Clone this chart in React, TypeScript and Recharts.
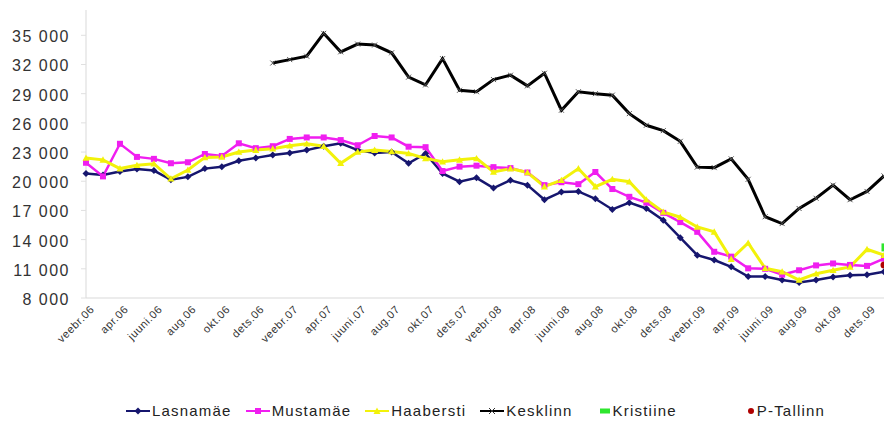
import { LineChart, Line, XAxis, YAxis } from 'recharts';

// monthly average, Feb 2006 .. Jan 2010
const months = [
  'veebr.06', 'märts.06', 'apr.06', 'mai.06', 'juuni.06', 'juuli.06', 'aug.06', 'sept.06', 'okt.06', 'nov.06', 'dets.06', 'jaan.07',
  'veebr.07', 'märts.07', 'apr.07', 'mai.07', 'juuni.07', 'juuli.07', 'aug.07', 'sept.07', 'okt.07', 'nov.07', 'dets.07', 'jaan.08',
  'veebr.08', 'märts.08', 'apr.08', 'mai.08', 'juuni.08', 'juuli.08', 'aug.08', 'sept.08', 'okt.08', 'nov.08', 'dets.08', 'jaan.09',
  'veebr.09', 'märts.09', 'apr.09', 'mai.09', 'juuni.09', 'juuli.09', 'aug.09', 'sept.09', 'okt.09', 'nov.09', 'dets.09', 'jaan.10',
];

const lasnamae = [
  20800, 20650, 21000, 21250, 21100, 20150, 20450, 21300, 21500, 22100, 22400, 22700,
  22900, 23200, 23600, 23900, 23200, 22900, 23000, 21850, 22850, 20800, 19950, 20350,
  19300, 20100, 19600, 18100, 18900, 18950, 18200, 17100, 17800, 17200, 16000, 14200,
  12400, 11900, 11200, 10200, 10200, 9850, 9600, 9850, 10150, 10350, 10400, 10700,
];

const mustamae = [
  21900, 20500, 23850, 22500, 22300, 21850, 21950, 22800, 22600, 23900, 23400, 23600,
  24350, 24500, 24500, 24230, 23700, 24650, 24500, 23550, 23500, 21050, 21500, 21600,
  21450, 21350, 20900, 19600, 19900, 19700, 20950, 19200, 18400, 17800, 16750, 15800,
  14800, 12750, 12250, 11050, 11000, 10400, 10850, 11350, 11550, 11400, 11300, 12050,
];

const haabersti = [
  22400, 22200, 21300, 21650, 21800, 20250, 21150, 22450, 22500, 23000, 23200, 23350,
  23650, 23850, 23600, 21850, 23000, 23200, 23050, 22850, 22350, 22000, 22200, 22350,
  20950, 21300, 20900, 19450, 20100, 21300, 19450, 20200, 19950, 18100, 16850, 16300,
  15300, 14800, 12000, 13650, 11050, 10700, 9850, 10500, 10850, 11200, 13000, 12400,
];

const kesklinn = [
  null, null, null, null, null, null, null, null, null, null, null, 32150,
  32500, 32850, 35200, 33300, 34100, 34000, 33200, 30700, 29900, 32600, 29350, 29200,
  30450, 30900, 29800, 31100, 27300, 29200, 29000, 28850, 26950, 25750, 25200, 24100,
  21450, 21400, 22300, 20200, 16350, 15650, 17200, 18250, 19600, 18100, 18950, 20550,
];

// only the last month is reported for these two
const kristiine = [...Array(47).fill(null), 13200];
const pTallinn = [...Array(47).fill(null), 11400];

const yTicks = [8000, 11000, 14000, 17000, 20000, 23000, 26000, 29000, 32000, 35000];

const data = months.map((m, i) => ({
  m,
  lasnamae: lasnamae[i],
  mustamae: mustamae[i],
  haabersti: haabersti[i],
  kesklinn: kesklinn[i],
  kristiine: kristiine[i],
  pTallinn: pTallinn[i],
}));

const NAVY = '#16166e';
const MAGENTA = '#f01ef0';
const YELLOW = '#f2f20a';
const BLACK = '#000000';
const GREEN = '#2ee62e';
const RED = '#b00000';

const FONT = '"Liberation Sans", Arial, sans-serif';

function fmt(v: number) {
  return String(v).replace(/\B(?=(\d{3})+(?!\d))/g, ' ');
}

function Diamond(p: any) {
  if (p.cx == null || p.cy == null) return <g key={p.index} />;
  const r = 3.5;
  return <polygon key={p.index} points={`${p.cx},${p.cy - r} ${p.cx + r},${p.cy} ${p.cx},${p.cy + r} ${p.cx - r},${p.cy}`} fill={NAVY} />;
}

function Square(p: any) {
  if (p.cx == null || p.cy == null) return <g key={p.index} />;
  return <rect key={p.index} x={p.cx - 3} y={p.cy - 3} width={6} height={6} fill={MAGENTA} />;
}

function Triangle(p: any) {
  if (p.cx == null || p.cy == null) return <g key={p.index} />;
  const r = 3.5;
  return <polygon key={p.index} points={`${p.cx},${p.cy - r} ${p.cx + r},${p.cy + r * 0.8} ${p.cx - r},${p.cy + r * 0.8}`} fill={YELLOW} />;
}

function Star(p: any) {
  if (p.cx == null || p.cy == null) return <g key={p.index} />;
  const r = 2.5;
  return (
    <g key={p.index} stroke="#555" strokeWidth={1}>
      <line x1={p.cx - r} y1={p.cy - r} x2={p.cx + r} y2={p.cy + r} />
      <line x1={p.cx - r} y1={p.cy + r} x2={p.cx + r} y2={p.cy - r} />
    </g>
  );
}

function GreenBar(p: any) {
  if (p.cx == null || p.cy == null) return <g key={p.index} />;
  return <rect key={p.index} x={p.cx - 2.5} y={p.cy - 4} width={5} height={8} fill={GREEN} />;
}

function RedDot(p: any) {
  if (p.cx == null || p.cy == null) return <g key={p.index} />;
  return <circle key={p.index} cx={p.cx} cy={p.cy} r={3.5} fill={RED} />;
}

function YTick({ x, y, payload }: any) {
  return (
    <text x={x} y={y} dy={7} textAnchor="end" fontSize={16} letterSpacing={1.5} fill="#333" fontFamily={FONT}>
      {fmt(payload.value)}
    </text>
  );
}

function XTick({ x, y, payload }: any) {
  return (
    <g transform={`translate(${x + 9},${y + 12})`}>
      <text x={0} y={0} textAnchor="end" transform="rotate(-45)" fontSize={11} letterSpacing={0.6} fill="#333" fontFamily={FONT}>
        {payload.value}
      </text>
    </g>
  );
}

const legendItems = [
  { name: 'Lasnamäe', color: NAVY, line: true, mark: 'diamond' },
  { name: 'Mustamäe', color: MAGENTA, line: true, mark: 'square' },
  { name: 'Haabersti', color: YELLOW, line: true, mark: 'triangle' },
  { name: 'Kesklinn', color: BLACK, line: true, mark: 'star' },
  { name: 'Kristiine', color: GREEN, line: false, mark: 'bar' },
  { name: 'P-Tallinn', color: RED, line: false, mark: 'dot' },
];

function LegendIcon({ color, line, mark }: { color: string; line: boolean; mark: string }) {
  // markers without a line sit against their label
  const c = line ? 12 : 18;
  return (
    <svg width={24} height={12} style={{ display: 'block' }}>
      {line && <line x1={0} y1={6} x2={24} y2={6} stroke={color} strokeWidth={2} />}
      {mark === 'diamond' && <polygon points={`${c},2.5 ${c + 3.5},6 ${c},9.5 ${c - 3.5},6`} fill={color} />}
      {mark === 'square' && <rect x={c - 3} y={3} width={6} height={6} fill={color} />}
      {mark === 'triangle' && <polygon points={`${c},2.5 ${c + 3.5},9 ${c - 3.5},9`} fill={color} />}
      {mark === 'star' && (
        <g stroke="#333" strokeWidth={1}>
          <line x1={c - 3} y1={3} x2={c + 3} y2={9} />
          <line x1={c - 3} y1={9} x2={c + 3} y2={3} />
        </g>
      )}
      {mark === 'bar' && <rect x={c - 5} y={3.5} width={10} height={5} fill={color} />}
      {mark === 'dot' && <circle cx={c + 2} cy={6} r={3} fill={color} />}
    </svg>
  );
}

export default function App() {
  return (
    <div style={{ position: 'absolute', left: 0, top: 0, width: 884, height: 424, background: '#fff', overflow: 'hidden', fontFamily: FONT }}>
      <LineChart width={884} height={424} data={data} margin={{ top: 10, right: 0, left: 0, bottom: 0 }}>
        <XAxis
          dataKey="m"
          interval={1}
          height={126}
          tick={<XTick />}
          tickLine={false}
          tickSize={0}
          tickMargin={0}
          axisLine={{ stroke: '#d9d9d9' }}
        />
        <YAxis
          type="number"
          domain={[8000, 37600]}
          ticks={yTicks}
          width={86}
          tick={<YTick />}
          tickSize={5}
          tickMargin={11}
          tickLine={{ stroke: '#e0e0e0' }}
          axisLine={{ stroke: '#d9d9d9' }}
          allowDataOverflow
        />
        <Line dataKey="lasnamae" stroke={NAVY} strokeWidth={2.5} dot={Diamond} activeDot={false} isAnimationActive={false} />
        <Line dataKey="mustamae" stroke={MAGENTA} strokeWidth={2.5} dot={Square} activeDot={false} isAnimationActive={false} />
        <Line dataKey="haabersti" stroke={YELLOW} strokeWidth={3} dot={Triangle} activeDot={false} isAnimationActive={false} />
        <Line dataKey="kesklinn" stroke={BLACK} strokeWidth={3} dot={Star} activeDot={false} isAnimationActive={false} />
        <Line dataKey="kristiine" stroke={GREEN} strokeWidth={2} dot={GreenBar} activeDot={false} isAnimationActive={false} />
        <Line dataKey="pTallinn" stroke={RED} strokeWidth={2} dot={RedDot} activeDot={false} isAnimationActive={false} />
      </LineChart>
      <div style={{ position: 'absolute', top: 402, left: 126, display: 'flex', alignItems: 'center', gap: 14, fontSize: 15, letterSpacing: 1.2, color: '#222', whiteSpace: 'nowrap' }}>
        {legendItems.map((it) => (
          <div key={it.name} style={{ display: 'flex', alignItems: 'center', gap: 2, marginLeft: it.mark === 'dot' ? 40 : 0 }}>
            <LegendIcon color={it.color} line={it.line} mark={it.mark} />
            <span>{it.name}</span>
          </div>
        ))}
      </div>
    </div>
  );
}
